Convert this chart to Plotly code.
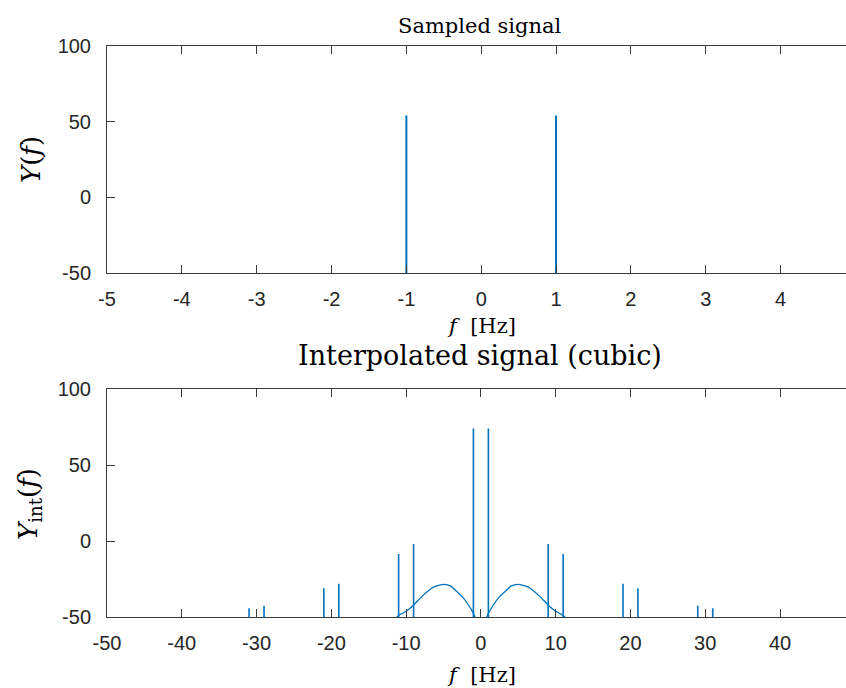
import plotly.graph_objects as go

# ---------------- data ----------------
FLOOR_DB = -300.0  # noise floor of the spectrum (far below the axis limit)

top_freqs = [-1, 1]
top_peaks = [54.0, 54.0]

bot_freqs = [-31, -29, -21, -19, -11, -9, -1, 1, 9, 11, 19, 21, 29, 31]
bot_peaks = [-44.3, -42.6, -31.1, -28.1, -8.6, -2.0, 74.0, 74.0,
             -2.0, -8.6, -28.1, -31.1, -42.6, -44.3]

lobe_left_f = [-11.3, -11.1, -9.9, -9.1, -7.9, -6.6, -6.0, -5.0, -4.0, -3.7, -2.5, -1.66, -1.0, -0.7]
lobe_left_db = [-51.0, -49.3, -45.9, -42.6, -36.6, -31.1, -29.7, -28.5, -29.7, -31.1, -36.6, -42.1, -47.6, -51.0]
lobe_right_f = [0.7, 1.0, 1.66, 2.5, 3.7, 4.0, 5.0, 6.0, 6.6, 7.9, 9.1, 9.9, 11.1, 11.3]
lobe_right_db = [-51.0, -47.6, -42.1, -36.6, -31.1, -29.7, -28.5, -29.7, -31.1, -36.6, -42.6, -45.9, -49.3, -51.0]

top_xticks = [-5, -4, -3, -2, -1, 0, 1, 2, 3, 4]
top_xlabels = ["-5", "-4", "-3", "-2", "-1", "0", "1", "2", "3", "4"]
bot_xticks = [-50, -40, -30, -20, -10, 0, 10, 20, 30, 40]
bot_xlabels = ["-50", "-40", "-30", "-20", "-10", "0", "10", "20", "30", "40"]
y_ticks = [-50, 0, 50, 100]
y_labels = ["-50", "0", "50", "100"]

# ---------------- figure ----------------
W, H = 846, 688
L = 107
PW = W - L
T, B = 46, 617          # pixel rows of the top of upper axes / bottom of lower axes
PH = B - T
BLUE = "#0072BD"
AX = "#3a3a3a"
TXT = "#262626"
SERIF = "DejaVu Serif"
SANS = "Liberation Sans, Arial, sans-serif"


def stems(freqs, peaks):
    xs, ys = [], []
    for f, p in zip(freqs, peaks):
        xs += [f, f, None]
        ys += [FLOOR_DB, p, None]
    return xs, ys


fig = go.Figure()
tx, ty = stems(top_freqs, top_peaks)
fig.add_trace(go.Scatter(x=tx, y=ty, mode="lines", line=dict(color=BLUE, width=2),
                         xaxis="x", yaxis="y", showlegend=False, hoverinfo="skip"))
bx, by = stems(bot_freqs, bot_peaks)
fig.add_trace(go.Scatter(x=bx, y=by, mode="lines", line=dict(color=BLUE, width=1.6),
                         xaxis="x2", yaxis="y2", showlegend=False, hoverinfo="skip"))
fig.add_trace(go.Scatter(x=lobe_left_f + [None] + lobe_right_f,
                         y=lobe_left_db + [None] + lobe_right_db,
                         mode="lines", line=dict(color=BLUE, width=1.3, shape="spline", smoothing=0.6),
                         xaxis="x2", yaxis="y2", showlegend=False, hoverinfo="skip"))


def py(px):
    return (B - px) / PH


def pxx(px):
    return (px - L) / PW


# axis pixel geometry
top_y0, top_y1 = 46, 273
bot_y0, bot_y1 = 389, 617
top_ppu = 74.84
bot_ppu = 7.478

common_x = dict(ticks="inside", ticklen=8, tickwidth=1, tickcolor=AX, showline=True,
                linecolor=AX, linewidth=1, mirror="ticks", showgrid=False, zeroline=False,
                tickfont=dict(family=SANS, size=20, color=TXT), ticklabelstandoff=8,
                automargin=False)
common_y = dict(ticks="inside", ticklen=8, tickwidth=1, tickcolor=AX, showline=True,
                linecolor=AX, linewidth=1, mirror=False, showgrid=False, zeroline=False,
                tickfont=dict(family=SANS, size=20, color=TXT), ticklabelstandoff=11,
                range=[-50, 100], tickvals=y_ticks, ticktext=y_labels, automargin=False)

fig.update_layout(
    width=W, height=H,
    margin=dict(l=L, r=0, t=T, b=H - B, pad=0, autoexpand=False),
    paper_bgcolor="white", plot_bgcolor="white",
    xaxis=dict(common_x, domain=[0, 1], anchor="y", range=[-5, -5 + PW / top_ppu],
               tickvals=top_xticks, ticktext=top_xlabels),
    yaxis=dict(common_y, domain=[py(top_y1), py(top_y0)], anchor="x"),
    xaxis2=dict(common_x, domain=[0, 1], anchor="y2", range=[-50, -50 + PW / bot_ppu],
                tickvals=bot_xticks, ticktext=bot_xlabels),
    yaxis2=dict(common_y, domain=[py(bot_y1), py(bot_y0)], anchor="x2"),
)

ann = [
    dict(text="Sampled signal", x=pxx(480), y=py(26), size=21),
    dict(text="Interpolated signal (cubic)", x=pxx(480), y=py(355), size=27),
    dict(text="<i>f</i>  [Hz]", x=pxx(481), y=py(326), size=21),
    dict(text="<i>f</i>  [Hz]", x=pxx(481), y=py(675), size=21),
]
for a in ann:
    fig.add_annotation(text=a["text"], x=a["x"], y=a["y"], xref="paper", yref="paper",
                       xanchor="center", yanchor="middle", showarrow=False,
                       font=dict(family=SERIF, size=a["size"], color="black"))

ylab = [
    dict(text="<i>Y</i>(<i>f</i>)", x=pxx(31), y=py(160)),
    dict(text="<i>Y</i><sub>int</sub>(<i>f</i>)", x=pxx(29), y=py(504)),
]
for a in ylab:
    fig.add_annotation(text=a["text"], x=a["x"], y=a["y"], xref="paper", yref="paper",
                       xanchor="center", yanchor="middle", showarrow=False, textangle=-90,
                       font=dict(family=SERIF, size=26, color="black"))

fig.write_html("out.html")
